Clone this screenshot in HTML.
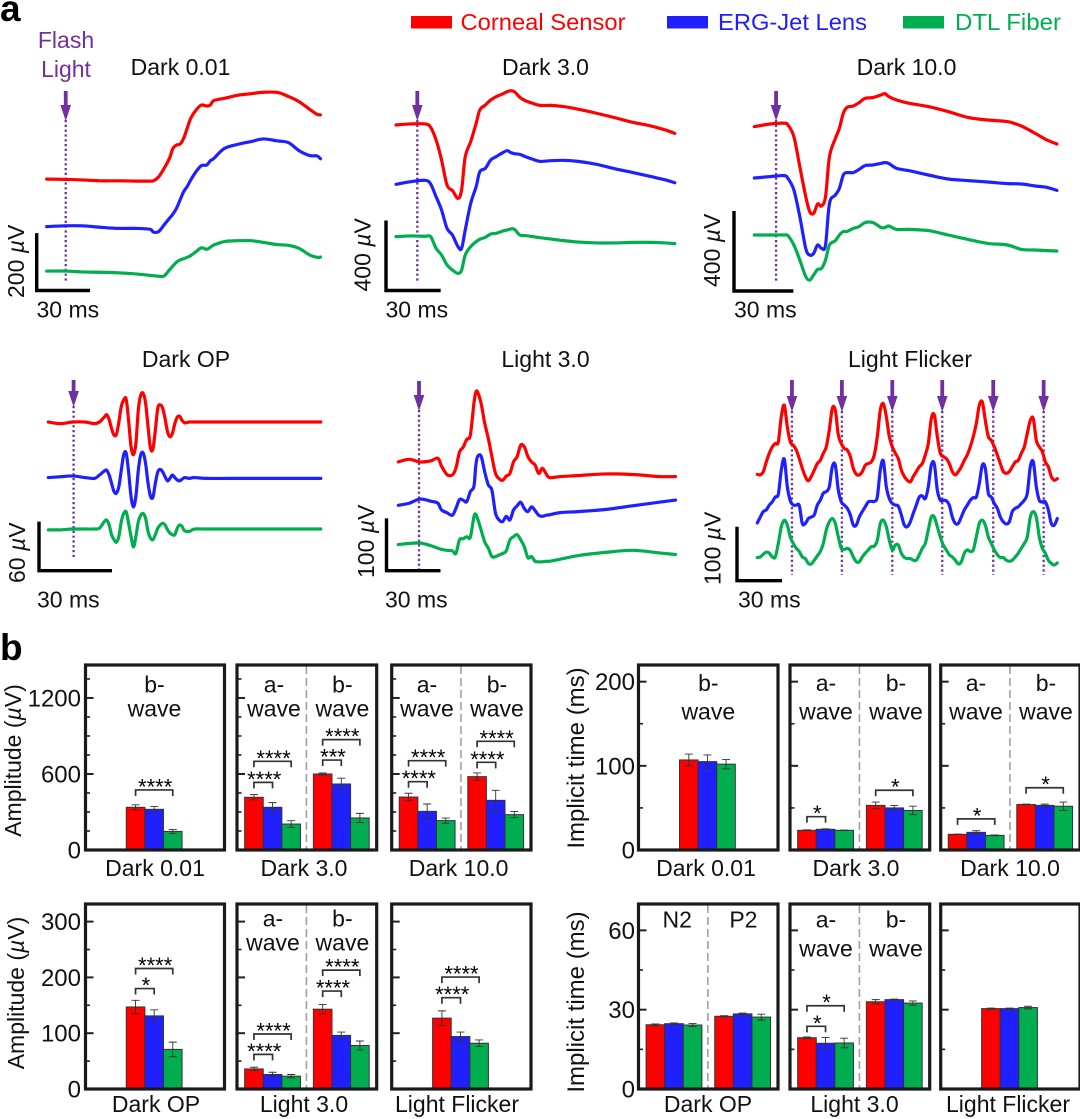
<!DOCTYPE html>
<html lang="en">
<head>
<meta charset="utf-8">
<title>ERG traces and amplitude / implicit time comparison</title>
<style>
html,body{margin:0;padding:0;background:#fff;}
svg{display:block;position:absolute;left:0;top:0;}
text{font-family:"Liberation Sans",Arial,sans-serif;font-size:23px;fill:#111;}
</style>
</head>
<body>
<svg id="figure" xmlns="http://www.w3.org/2000/svg" width="1080" height="1119" viewBox="0 0 1080 1119">
  <rect x="0" y="0" width="1080" height="1119" fill="#fff"/>
  <text x="0" y="21" style="font-size:37px;font-weight:bold;fill:#000">a</text>
  <text x="0" y="660" style="font-size:37px;font-weight:bold;fill:#000">b</text>

  <g>
    <rect x="411" y="16" width="41" height="12.5" fill="#ff0000"/>
    <text x="460.5" y="30" style="fill:#ff0000" textLength="165" lengthAdjust="spacingAndGlyphs">Corneal Sensor</text>
    <rect x="667" y="16" width="41" height="12.5" fill="#2020ff"/>
    <text x="718" y="30" style="fill:#2020ff" textLength="149" lengthAdjust="spacingAndGlyphs">ERG-Jet Lens</text>
    <rect x="903" y="16" width="41" height="12.5" fill="#00ae50"/>
    <text x="955" y="30" style="fill:#00ae50" textLength="106" lengthAdjust="spacingAndGlyphs">DTL Fiber</text>
  </g>

  <text x="66" y="48" text-anchor="middle" style="fill:#7030a0">Flash</text>
  <text x="66" y="77" text-anchor="middle" style="fill:#7030a0">Light</text>

  <text x="180.5" y="75" text-anchor="middle">Dark 0.01</text>
  <text x="545.5" y="75" text-anchor="middle">Dark 3.0</text>
  <text x="906.5" y="75" text-anchor="middle">Dark 10.0</text>
  <text x="186" y="367" text-anchor="middle">Dark OP</text>
  <text x="545.5" y="367" text-anchor="middle">Light 3.0</text>
  <text x="910" y="367" text-anchor="middle">Light Flicker</text>

  <text transform="translate(21,760.5) rotate(-90)" text-anchor="middle">Amplitude (<tspan font-style="italic">µ</tspan>V)</text>
  <text transform="translate(24,993) rotate(-90)" text-anchor="middle">Amplitude (<tspan font-style="italic">µ</tspan>V)</text>
  <text transform="translate(584,758) rotate(-90)" text-anchor="middle" style="font-size:24px">Implicit time (ms)</text>
  <text transform="translate(584,1002) rotate(-90)" text-anchor="middle" style="font-size:24px">Implicit time (ms)</text>

  <g id="traces"></g>
  <g id="bars"></g>
</svg>

<script>
// ---------- Trace data: time in ms, potential in microvolts ----------
const dark001Time = [0,10,20,30,40,50,58,60,63,66,69,71,73,75,77,79,81,84,87,90,92,94,100,108,115,122,130,136,142,148,152,154];
const dark001Red = [387,386,384,381,381,380,380,381,395,424,459,494,506,509,529,564,599,628,645,642,645,661,669,680,685,690,689,675,657,630,613,611];
const dark001Blue = [221,224,224,219,215,215,212,202,204,227,250,265,285,314,343,361,384,413,434,436,451,459,494,509,518,527,520,514,486,469,468,458];
const dark001Green = [66,66,63,62,60,56,51,50,48,49,70,84,97,105,109,114,120,134,147,142,149,157,169,172,172,166,158,156,145,122,114,115];
const dark001Flash = [10.7];

const dark30Time = [0,8,16,19,22,25,28,31,34,36,38,41,44,46,49,52,55,58,61,63,65,68,71,75,79,85,92,100,110,120,130,140,148,153];
const dark30Red = [943,949,949,930,857,743,600,568,524,572,762,848,953,1029,1057,1086,1105,1118,1133,1139,1133,1101,1082,1067,1055,1055,1048,1033,1010,985,958,937,914,895];
const dark30Blue = [604,619,627,606,533,457,352,314,248,238,343,495,591,676,695,743,762,781,796,785,779,775,762,747,735,739,741,735,718,693,671,648,629,613];
const dark30Green = [305,309,307,305,238,200,143,114,95,114,200,248,276,290,301,320,324,335,343,349,347,314,311,305,299,291,282,274,269,269,272,272,269,265];
const dark30Flash = [11.7];

const dark100Time = [0,8,15,17,20,23,26,28,30,32,34,36,38,41,43,45,47,50,53,56,60,64,66,68,72,78,88,98,108,118,128,135,142,148,153];
const dark100Red = [822,835,839,830,772,622,472,397,388,435,425,472,672,763,813,889,919,925,942,963,967,980,987,972,955,939,922,897,868,855,847,825,788,755,735];
const dark100Blue = [565,572,577,563,505,372,213,180,188,230,213,230,438,480,513,580,592,592,608,627,630,638,642,638,613,602,580,560,552,545,537,535,525,518,503];
const dark100Green = [280,280,280,277,230,155,72,55,80,108,113,155,230,252,280,297,298,313,322,342,342,318,317,325,308,308,302,280,258,238,230,208,205,202,200];
const dark100Flash = [11];

const darkOpTime = [0,5,10,15,19,21,23,24,25,26,27,28,29,30,31,32,33,34,35,36,37,38,39,40,41,42,43,44,45,46,47,48,49,50,51,52,53,54,55,56,58,60,65,75,90,105,112];
const darkOpRed = [182,180,182,182,180,182,188,191,185,174,166,167,182,201,209,210,184,152,142,156,197,215,217,205,176,150,149,172,199,203,199,186,170,164,168,180,188,189,184,181,182,182,182,182,182,182,182];
const darkOpBlue = [114,115,116,114,113,117,122,123,117,107,97,95,103,123,142,144,121,91,78,91,123,142,144,131,107,91,90,107,121,124,121,115,110,113,117,114,111,110,112,114,113,114,113,113,113,113,113];
const darkOpGreen = [50,50,51,51,51,52,60,62,56,44,38,35,42,60,70,72,58,42,29,42,60,68,70,64,48,40,38,44,52,56,58,56,50,46,44,44,52,56,54,49,48,51,51,51,51,51,51];
const darkOpFlash = [10.4];

const light30Time = [0,6,12,18,22,24,27,30,32,34,36,38,40,42,43,44,46,48,50,52,54,56,58,60,62,64,66,68,70,72,74,76,78,80,82,84,90,100,115,130,145,154];
const light30Red = [208,213,208,210,215,200,184,183,196,227,236,251,259,320,340,342,320,282,253,218,186,176,173,181,186,208,218,240,237,218,208,202,186,196,186,178,180,182,185,184,180,180];
const light30Blue = [125,129,137,133,129,116,111,106,119,136,135,132,151,161,199,218,219,189,164,154,110,97,94,104,97,116,124,131,119,113,122,115,106,104,106,107,111,113,117,124,131,135];
const light30Green = [50,52,53,48,43,41,39,38,33,59,61,65,64,103,108,100,78,55,43,27,27,30,33,38,59,65,69,59,46,25,27,18,17,17,18,18,22,29,35,39,34,31];
const light30Flash = [11.5];

const flickerTime = [0,2,4,6,8,10,12,14,16,18,20,22,24,26,28,30,32,34,36,38,40,42,44,46,48,50,52,54,56,58,60,62,64,66,68,70,72,74,76,78,80,82,84,86,88,90,92,94,96,98,100,102,104,106,108,110,112,114,116,118,120,122,124,126,128,130,132,134,136,138,140,142,144,146,148,150,152,154,156,158,160,162,164,166,168,170,172,174,176,178,180,182,184,186,188,190,192,194,196,198,200];
const flickerRed = [197,196,202,220,236,248,254,257,304,325,285,257,251,242,226,208,193,185,193,205,217,223,236,248,279,319,316,270,254,245,242,230,208,197,196,202,214,217,220,233,267,316,328,304,267,248,236,226,205,193,186,183,193,202,211,217,233,254,300,307,267,236,230,226,217,202,196,202,211,223,233,248,267,291,325,331,297,267,260,248,233,217,202,199,202,211,220,223,236,248,273,297,300,260,248,239,220,211,193,186,189];
const flickerBlue = [107,118,128,131,140,146,155,160,205,225,174,148,140,140,139,106,106,115,118,122,140,149,162,165,174,211,214,168,146,140,134,122,103,103,118,128,137,146,147,147,155,205,222,174,152,143,140,138,122,103,100,109,125,140,155,157,152,174,214,216,168,149,149,148,140,118,106,106,118,131,140,149,154,155,180,214,208,162,155,143,134,118,109,105,109,128,134,137,143,149,162,211,220,174,149,146,146,131,106,103,115];
const flickerGreen = [43,44,49,53,51,44,44,69,100,112,103,81,69,60,54,44,41,32,31,38,46,54,69,94,109,115,106,81,60,58,60,56,44,35,35,44,51,57,63,64,75,106,112,100,75,57,66,66,51,43,41,41,38,38,48,60,69,94,118,118,100,81,66,57,48,44,38,31,35,51,57,54,57,81,106,112,103,81,69,57,48,43,43,38,36,38,44,51,60,69,81,118,128,118,81,60,51,38,32,29,33];
const flickerFlash = [23.1,56.4,90,123.3,157.3,190.9];

// ---------- Bar data: one inner array per wave group, order = red, blue, green ----------
const ampDark001Values = [[337,321,147]];
const ampDark001Errors = [[20,22,15]];
const ampDark001Brackets = [[0,0,2,474,4]];
const ampDark30Values = [[416,337,205],[600,521,253]];
const ampDark30Errors = [[21,37,26],[8,46,36]];
const ampDark30Brackets = [[0,0,1,534,4],[0,0,2,700,4],[1,0,1,710,3],[1,0,2,871,4]];
const ampDark100Values = [[418,305,232],[579,392,279]];
const ampDark100Errors = [[30,58,20],[29,79,24]];
const ampDark100Brackets = [[0,0,1,539,4],[0,0,2,705,4],[1,0,1,692,4],[1,0,2,858,4]];

const ampDarkOpValues = [[147,131,71]];
const ampDarkOpErrors = [[12,11,13]];
const ampDarkOpBrackets = [[0,0,1,180,1],[0,0,2,216,4]];
const ampLight30Values = [[36,26,23],[143,96,78]];
const ampLight30Errors = [[3,4,3],[8.5,6,8]];
const ampLight30Brackets = [[0,0,1,62,4],[0,0,2,98.5,4],[1,0,1,175.5,4],[1,0,2,213,4]];
const ampFlickerValues = [[127,94,82]];
const ampFlickerErrors = [[13,8,6]];
const ampFlickerBrackets = [[0,0,1,163.6,4],[0,0,2,200.6,4]];

const timeDark001Values = [[107,105,102]];
const timeDark001Errors = [[7,8,5.5]];
const timeDark001Brackets = [];
const timeDark30Values = [[23.4,24.6,23.4],[53,50,47]];
const timeDark30Errors = [[0.5,0.5,0.3],[4,3,5]];
const timeDark30Brackets = [[0,0,1,39.6,1],[1,0,2,71,1]];
const timeDark100Values = [[18.6,21,17.4],[54,53,52]];
const timeDark100Errors = [[0.3,2,0.5],[0.5,1.5,5]];
const timeDark100Brackets = [[0,0,2,37,1],[1,0,2,74,1]];

const timeDarkOpValues = [[24.3,24.7,24.2],[27.5,28.4,27.2]];
const timeDarkOpErrors = [[0.3,0.3,0.6],[0.2,0.3,1.1]];
const timeDarkOpBrackets = [];
const timeLight30Values = [[19.4,17.3,17.4],[33,33.8,32.5]];
const timeLight30Errors = [[0.3,2.2,1.8],[0.8,0.2,0.8]];
const timeLight30Brackets = [[0,0,1,23.7,1],[0,0,2,31.5,1]];
const timeFlickerValues = [[30.4,30.4,30.8]];
const timeFlickerErrors = [[0.2,0.2,0.5]];
const timeFlickerBrackets = [];

// ---------- Axis ticks ----------
const ampTopMajorTicks = [0,600,1200];
const ampTopMinorTicks = [150,300,450,750,900,1050,1350];
const ampBottomMajorTicks = [0,100,200,300];
const ampBottomMinorTicks = [50,150,250];
const timeTopMajorTicks = [0,100,200];
const timeTopMinorTicks = [50,150];
const timeBottomMajorTicks = [0,30,60];
const timeBottomMinorTicks = [15,45];

const seriesColors = ['#ff0000','#2020ff','#00ae50'];
const seriesKeys = ['corneal-sensor','erg-jet-lens','dtl-fiber'];
const svgNS = 'http://www.w3.org/2000/svg';

function make(tag, attrs, parent) {
  const node = document.createElementNS(svgNS, tag);
  for (const key in attrs) node.setAttribute(key, attrs[key]);
  parent.appendChild(node);
  return node;
}

// ---------- Trace panels ----------
const tracePanels = [
  {key:'dark-0-01', time:dark001Time, series:[dark001Red,dark001Blue,dark001Green], flash:dark001Flash,
   x0:46.7, msPx:1.778, y0:290, uvPx:0.2866, arrowTop:91, tip:121, dotEnd:282,
   barX:36.7, barY:290.5, barMs:30, barUv:200, barLabel:'200', labelX:24, labelY:298, msX:36.5, msY:317.5},
  {key:'dark-3-0', time:dark30Time, series:[dark30Red,dark30Blue,dark30Green], flash:dark30Flash,
   x0:396, msPx:1.822, y0:290, uvPx:0.175, arrowTop:91, tip:121, dotEnd:282,
   barX:386, barY:290.5, barMs:30, barUv:400, barLabel:'400', labelX:370.5, labelY:291.5, msX:385.5, msY:317.5},
  {key:'dark-10-0', time:dark100Time, series:[dark100Red,dark100Blue,dark100Green], flash:dark100Flash,
   x0:754.3, msPx:1.978, y0:291, uvPx:0.2, arrowTop:91, tip:121, dotEnd:282,
   barX:734, barY:291, barMs:30, barUv:400, barLabel:'400', labelX:720, labelY:287, msX:734, msY:317.5},
  {key:'dark-op', time:darkOpTime, series:[darkOpRed,darkOpBlue,darkOpGreen], flash:darkOpFlash,
   x0:48.3, msPx:2.433, y0:570.7, uvPx:0.817, arrowTop:380, tip:407, dotEnd:559,
   barX:39, barY:570.7, barMs:30, barUv:60, barLabel:'60', labelX:25, labelY:583, msX:37, msY:607.5},
  {key:'light-3-0', time:light30Time, series:[light30Red,light30Blue,light30Green], flash:light30Flash,
   x0:398.3, msPx:1.8, y0:570.7, uvPx:0.523, arrowTop:381, tip:411, dotEnd:569,
   barX:386.5, barY:570.7, barMs:30, barUv:100, barLabel:'100', labelX:374, labelY:578, msX:385, msY:607.5},
  {key:'light-flicker', time:flickerTime, series:[flickerRed,flickerBlue,flickerGreen], flash:flickerFlash,
   x0:757.3, msPx:1.5, y0:580.7, uvPx:0.54, arrowTop:380, tip:412, dotEnd:575,
   barX:737, barY:580.7, barMs:30, barUv:100, barLabel:'100', labelX:720.7, labelY:585, msX:738, msY:607.5}
];

function smoothPath(points) {
  let d = 'M' + points[0][0].toFixed(2) + ' ' + points[0][1].toFixed(2);
  for (let i = 0; i < points.length - 1; i++) {
    const p0 = points[Math.max(i - 1, 0)], p1 = points[i], p2 = points[i + 1], p3 = points[Math.min(i + 2, points.length - 1)];
    const c1x = p1[0] + (p2[0] - p0[0]) / 6, c1y = p1[1] + (p2[1] - p0[1]) / 6;
    const c2x = p2[0] - (p3[0] - p1[0]) / 6, c2y = p2[1] - (p3[1] - p1[1]) / 6;
    d += 'C' + c1x.toFixed(2) + ' ' + c1y.toFixed(2) + ' ' + c2x.toFixed(2) + ' ' + c2y.toFixed(2) + ' ' + p2[0].toFixed(2) + ' ' + p2[1].toFixed(2);
  }
  return d;
}

const traceRoot = document.getElementById('traces');
tracePanels.forEach(function (panel) {
  const xScale = function (ms) { return panel.x0 + ms * panel.msPx; };
  const yScale = function (uv) { return panel.y0 - uv * panel.uvPx; };
  const group = make('g', {}, traceRoot);
  
  

  panel.flash.forEach(function (ms, index) {
    const fx = xScale(ms);
    const dots = make('line', {x1:fx, x2:fx, y1:panel.tip - 1, y2:panel.dotEnd, stroke:'#7030a0', 'stroke-width':2.3, 'stroke-dasharray':'2.2 2.6'}, group);
    
    
  });

  panel.series.forEach(function (values, s) {
    const points = [];
    const count = Math.min(values.length, panel.time.length);
    for (let i = 0; i < count; i++) points.push([xScale(panel.time[i]), yScale(values[i])]);
    const trace = make('path', {d:smoothPath(points), fill:'none', stroke:seriesColors[s], 'stroke-width':3.2, 'stroke-linejoin':'round', 'stroke-linecap':'round'}, group);
    
    
  });

  panel.flash.forEach(function (ms, index) {
    const fx = xScale(ms);
    const headTop = panel.tip - 16;
    const arrow = make('path', {d:'M' + (fx - 1.9) + ' ' + panel.arrowTop + 'H' + (fx + 1.9) + 'V' + headTop + 'H' + (fx + 5.3) + 'L' + fx + ' ' + panel.tip + 'L' + (fx - 5.3) + ' ' + headTop + 'H' + (fx - 1.9) + 'Z', fill:'#7030a0'}, group);
    
    
  });

  const barW = panel.barMs * panel.msPx, barH = panel.barUv * panel.uvPx;
  const scaleBar = make('path', {d:'M' + panel.barX + ' ' + (panel.barY - barH) + 'V' + panel.barY + 'H' + (panel.barX + barW), fill:'none', stroke:'#000', 'stroke-width':3.4}, group);
  
  

  const uvText = make('text', {transform:'translate(' + panel.labelX + ',' + panel.labelY + ') rotate(-90)'}, group);
  
  
  uvText.appendChild(document.createTextNode(panel.barLabel + ' '));
  const mu = make('tspan', {'font-style':'italic'}, uvText);
  mu.textContent = 'µ';
  uvText.appendChild(document.createTextNode('V'));

  const msText = make('text', {x:panel.msX, y:panel.msY}, group);
  
  
  msText.textContent = panel.barMs + ' ms';
});

// ---------- Bar panels ----------
const leftCols = [[85.5,224.5],[237,376.7],[391.7,531]];
const rightCols = [[638.5,778],[790,929.7],[940.7,1080]];
const rowTop = {top:665,bottom:850,titleGap:26};
const rowBottom = {top:904,bottom:1089,titleGap:23};

const barPanels = [
  {key:'amplitude-dark-0-01', col:leftCols[0], row:rowTop, uvPx:0.1267, values:ampDark001Values, errors:ampDark001Errors, brackets:ampDark001Brackets, major:ampTopMajorTicks, minor:ampTopMinorTicks, showLabels:true, labelRight:81, title:'Dark 0.01', titleX:155, groupText:[['b-','wave']], textX:[154.5], line1:692.5, line2:716.5},
  {key:'amplitude-dark-3-0', col:leftCols[1], row:rowTop, uvPx:0.1267, values:ampDark30Values, errors:ampDark30Errors, brackets:ampDark30Brackets, major:ampTopMajorTicks, minor:ampTopMinorTicks, title:'Dark 3.0', titleX:304, groupText:[['a-','wave'],['b-','wave']], textX:[274,342.4], line1:692.5, line2:716.5},
  {key:'amplitude-dark-10-0', col:leftCols[2], row:rowTop, uvPx:0.1267, values:ampDark100Values, errors:ampDark100Errors, brackets:ampDark100Brackets, major:ampTopMajorTicks, minor:ampTopMinorTicks, title:'Dark 10.0', titleX:458.6, groupText:[['a-','wave'],['b-','wave']], textX:[427,497], line1:692.5, line2:716.5},

  {key:'amplitude-dark-op', col:leftCols[0], row:rowBottom, uvPx:0.558, values:ampDarkOpValues, errors:ampDarkOpErrors, brackets:ampDarkOpBrackets, major:ampBottomMajorTicks, minor:ampBottomMinorTicks, showLabels:true, labelRight:81, title:'Dark OP', titleX:156, groupText:[], textX:[], line1:926.5, line2:950.5},
  {key:'amplitude-light-3-0', col:leftCols[1], row:rowBottom, uvPx:0.558, values:ampLight30Values, errors:ampLight30Errors, brackets:ampLight30Brackets, major:ampBottomMajorTicks, minor:ampBottomMinorTicks, title:'Light 3.0', titleX:304, groupText:[['a-','wave'],['b-','wave']], textX:[273,342.4], line1:926.5, line2:950.5},
  {key:'amplitude-light-flicker', col:leftCols[2], row:rowBottom, uvPx:0.558, values:ampFlickerValues, errors:ampFlickerErrors, brackets:ampFlickerBrackets, major:ampBottomMajorTicks, minor:ampBottomMinorTicks, title:'Light Flicker', titleX:457, groupText:[], textX:[], line1:926.5, line2:950.5},

  {key:'implicit-dark-0-01', col:rightCols[0], row:rowTop, uvPx:0.8417, values:timeDark001Values, errors:timeDark001Errors, brackets:timeDark001Brackets, major:timeTopMajorTicks, minor:timeTopMinorTicks, showLabels:true, labelRight:635, title:'Dark 0.01', titleX:706, groupText:[['b-','wave']], textX:[708.3], line1:691, line2:719.3},
  {key:'implicit-dark-3-0', col:rightCols[1], row:rowTop, uvPx:0.8417, values:timeDark30Values, errors:timeDark30Errors, brackets:timeDark30Brackets, major:timeTopMajorTicks, minor:timeTopMinorTicks, title:'Dark 3.0', titleX:856, groupText:[['a-','wave'],['b-','wave']], textX:[826,896], line1:691, line2:719.3},
  {key:'implicit-dark-10-0', col:rightCols[2], row:rowTop, uvPx:0.8417, values:timeDark100Values, errors:timeDark100Errors, brackets:timeDark100Brackets, major:timeTopMajorTicks, minor:timeTopMinorTicks, title:'Dark 10.0', titleX:1010, groupText:[['a-','wave'],['b-','wave']], textX:[976,1046], line1:691, line2:719.3},

  {key:'implicit-dark-op', col:rightCols[0], row:rowBottom, uvPx:2.644, values:timeDarkOpValues, errors:timeDarkOpErrors, brackets:timeDarkOpBrackets, major:timeBottomMajorTicks, minor:timeBottomMinorTicks, showLabels:true, labelRight:635, title:'Dark OP', titleX:708, groupText:[['N2'],['P2']], textX:[677.2,743.4], line1:927.5, line2:956.5},
  {key:'implicit-light-3-0', col:rightCols[1], row:rowBottom, uvPx:2.644, values:timeLight30Values, errors:timeLight30Errors, brackets:timeLight30Brackets, major:timeBottomMajorTicks, minor:timeBottomMinorTicks, title:'Light 3.0', titleX:854.5, groupText:[['a-','wave'],['b-','wave']], textX:[826,896], line1:927.5, line2:956.5},
  {key:'implicit-light-flicker', col:rightCols[2], row:rowBottom, uvPx:2.644, values:timeFlickerValues, errors:timeFlickerErrors, brackets:timeFlickerBrackets, major:timeBottomMajorTicks, minor:timeBottomMinorTicks, title:'Light Flicker', titleX:1008, groupText:[], textX:[], line1:927.5, line2:956.5}
];

const barRoot = document.getElementById('bars');
const barWidth = 18.6;

barPanels.forEach(function (panel) {
  const left = panel.col[0], right = panel.col[1], top = panel.row.top, bottom = panel.row.bottom;
  const width = right - left;
  const yScale = function (value) { return bottom - value * panel.uvPx; };
  const groupCount = panel.values.length;
  const groupCenter = function (g) {
    if (groupCount === 1) return left + width * 0.494;
    return left + width * (g === 0 ? 0.2545 : 0.7465);
  };
  const barX = function (g, b) { return groupCenter(g) + (b - 1.5) * barWidth; };

  const group = make('g', {}, barRoot);
  
  

  if (groupCount > 1) {
    const divider = make('line', {x1:left + width * 0.497, x2:left + width * 0.497, y1:top + 1, y2:bottom - 1, stroke:'#a0a0a0', 'stroke-width':1.6, 'stroke-dasharray':'8 4'}, group);
    
    
  }

  panel.values.forEach(function (groupValues, g) {
    groupValues.forEach(function (value, b) {
      const barTop = yScale(value);
      const bar = make('rect', {x:barX(g, b), y:barTop, width:barWidth, height:bottom - barTop, fill:seriesColors[b], stroke:'#333', 'stroke-width':1}, group);
      
      

      const err = panel.errors[g][b];
      const cx = barX(g, b) + barWidth / 2;
      const yHi = yScale(value + err), yLo = yScale(value - err);
      const whisker = make('path', {d:'M' + (cx - 4) + ' ' + yHi + 'H' + (cx + 4) + 'M' + cx + ' ' + yHi + 'V' + yLo + 'M' + (cx - 4) + ' ' + yLo + 'H' + (cx + 4), fill:'none', stroke:'#333', 'stroke-width':0.9}, group);
      
      
    });
  });

  panel.brackets.forEach(function (entry, index) {
    const g = entry[0], from = entry[1], to = entry[2], level = entry[3], stars = entry[4];
    const x1 = barX(g, from) + barWidth / 2, x2 = barX(g, to) + barWidth / 2, by = yScale(level);
    const bracket = make('path', {d:'M' + x1 + ' ' + (by + 6) + 'V' + by + 'H' + x2 + 'V' + (by + 6), fill:'none', stroke:'#333', 'stroke-width':1.7}, group);
    
    
    const starText = make('text', {x:(x1 + x2) / 2 + 1, y:by + 4.5, 'text-anchor':'middle', style:'font-size:22px;fill:#000'}, group);
    
    
    starText.textContent = '*'.repeat(stars);
  });

  panel.minor.forEach(function (tick) {
    const minorTick = make('line', {x1:left, x2:left + 4.5, y1:yScale(tick), y2:yScale(tick), stroke:'#222', 'stroke-width':1.6}, group);
    
    
  });
  panel.major.forEach(function (tick) {
    if (tick !== 0) {
      const majorTick = make('line', {x1:left, x2:left + 8, y1:yScale(tick), y2:yScale(tick), stroke:'#222', 'stroke-width':2}, group);
      
      
    }
    if (panel.showLabels) {
      const tickLabel = make('text', {x:panel.labelRight, y:yScale(tick) + 8.5, 'text-anchor':'end', style:'font-size:24px'}, group);
      
      
      tickLabel.textContent = String(tick);
    }
  });

  const frame = make('rect', {x:left, y:top, width:width, height:bottom - top, fill:'none', stroke:'#1a1a1a', 'stroke-width':3.2}, group);
  
  

  panel.groupText.forEach(function (lines, g) {
    lines.forEach(function (line, n) {
      const label = make('text', {x:panel.textX[g], y:n === 0 ? panel.line1 : panel.line2, 'text-anchor':'middle'}, group);
      
      
      label.textContent = line;
    });
  });

  const title = make('text', {x:panel.titleX, y:bottom + panel.row.titleGap, 'text-anchor':'middle'}, group);
  
  
  title.textContent = panel.title;
});
</script>
</body>
</html>
